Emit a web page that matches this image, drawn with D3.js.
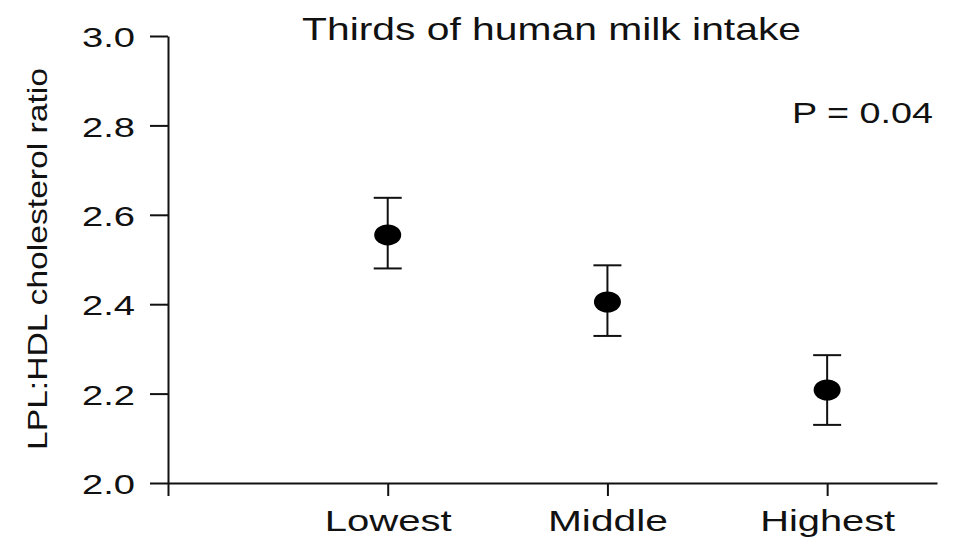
<!DOCTYPE html>
<html>
<head>
<meta charset="utf-8">
<script src="https://cdn.jsdelivr.net/npm/d3@7"></script>
<style>
  html, body { margin: 0; padding: 0; background: #fff; }
  svg { display: block; }
  text { font-family: "Liberation Sans", Arial, Helvetica, sans-serif; fill: #111; }
</style>
</head>
<body>
<svg id="chart" width="957" height="537"></svg>
<script>
// ---- data ----
const categories = ["Lowest", "Middle", "Highest"];
const means = [2.555, 2.405, 2.208];
const upper = [2.638, 2.487, 2.286];
const lower = [2.480, 2.329, 2.130];
const yTicks = [2.0, 2.2, 2.4, 2.6, 2.8, 3.0];
const titleText = "Thirds of human milk intake";
const yLabel = "LPL:HDL cholesterol ratio";
const pText = "P = 0.04";

// ---- layout / style ----
const svg = d3.select("#chart");
const catWidths = { "Lowest": 127, "Middle": 120, "Highest": 135 };

const x = d3.scaleLinear().domain([0, 3.5]).range([168, 937]);
const y = d3.scaleLinear().domain([2, 3]).range([483, 36]);

const data = categories.map((c, i) => ({ cat: c, pos: i + 1, mean: means[i], hi: upper[i], lo: lower[i] }));

// Y axis
const yAxis = d3.axisLeft(y)
  .tickValues(yTicks)
  .tickSize(18)
  .tickSizeOuter(0)
  .tickPadding(15)
  .tickFormat(d3.format(".1f"));
const gy = svg.append("g").attr("transform", `translate(${x(0)},0)`).call(yAxis);
gy.select(".domain").attr("stroke", "#111").attr("stroke-width", 2);
gy.selectAll(".tick line").attr("stroke", "#111").attr("stroke-width", 2);
gy.selectAll(".tick text")
  .attr("font-size", 28)
  .attr("dy", "0.38em")
  .attr("textLength", 53)
  .attr("lengthAdjust", "spacingAndGlyphs")
  .style("font-family", "'Liberation Sans', Arial, sans-serif")
  .attr("fill", "#111");

// X axis
const xAxis = d3.axisBottom(x)
  .tickValues([0, 1, 2, 3])
  .tickSize(13)
  .tickSizeOuter(0)
  .tickPadding(14)
  .tickFormat(d => d === 0 ? "" : categories[d - 1]);
const gx = svg.append("g").attr("transform", `translate(0,${y(2)})`).call(xAxis);
gx.select(".domain").attr("stroke", "#111").attr("stroke-width", 2);
gx.selectAll(".tick line").attr("stroke", "#111").attr("stroke-width", 2);
gx.selectAll(".tick text")
  .attr("font-size", 29)
  .attr("dy", "0.71em")
  .style("font-family", "'Liberation Sans', Arial, sans-serif")
  .attr("fill", "#111")
  .each(function(d) {
    if (d > 0) {
      d3.select(this).attr("textLength", catWidths[categories[d - 1]]).attr("lengthAdjust", "spacingAndGlyphs");
    }
  });

// Error bars
const capHalf = 14;
const g = svg.append("g");
g.selectAll("line.err").data(data).join("line")
  .attr("class", "err")
  .attr("x1", d => x(d.pos)).attr("x2", d => x(d.pos))
  .attr("y1", d => y(d.hi)).attr("y2", d => y(d.lo))
  .attr("stroke", "#111").attr("stroke-width", 2);
g.selectAll("line.capHi").data(data).join("line")
  .attr("class", "capHi")
  .attr("x1", d => x(d.pos) - capHalf).attr("x2", d => x(d.pos) + capHalf)
  .attr("y1", d => y(d.hi)).attr("y2", d => y(d.hi))
  .attr("stroke", "#111").attr("stroke-width", 2);
g.selectAll("line.capLo").data(data).join("line")
  .attr("class", "capLo")
  .attr("x1", d => x(d.pos) - capHalf).attr("x2", d => x(d.pos) + capHalf)
  .attr("y1", d => y(d.lo)).attr("y2", d => y(d.lo))
  .attr("stroke", "#111").attr("stroke-width", 2);
g.selectAll("ellipse.dot").data(data).join("ellipse")
  .attr("class", "dot")
  .attr("cx", d => x(d.pos)).attr("cy", d => y(d.mean))
  .attr("rx", 13.5).attr("ry", 10.5)
  .attr("fill", "#000");

// Title
svg.append("text")
  .attr("x", 302).attr("y", 40)
  .attr("font-size", 32)
  .attr("textLength", 499).attr("lengthAdjust", "spacingAndGlyphs")
  .text(titleText);

// P value
svg.append("text")
  .attr("x", 792).attr("y", 123)
  .attr("font-size", 29)
  .attr("textLength", 141).attr("lengthAdjust", "spacingAndGlyphs")
  .text(pText);

// Y label
svg.append("text")
  .attr("transform", "translate(47,259) rotate(-90)")
  .attr("text-anchor", "middle")
  .attr("font-size", 28)
  .attr("textLength", 382).attr("lengthAdjust", "spacingAndGlyphs")
  .text(yLabel);
</script>
</body>
</html>
